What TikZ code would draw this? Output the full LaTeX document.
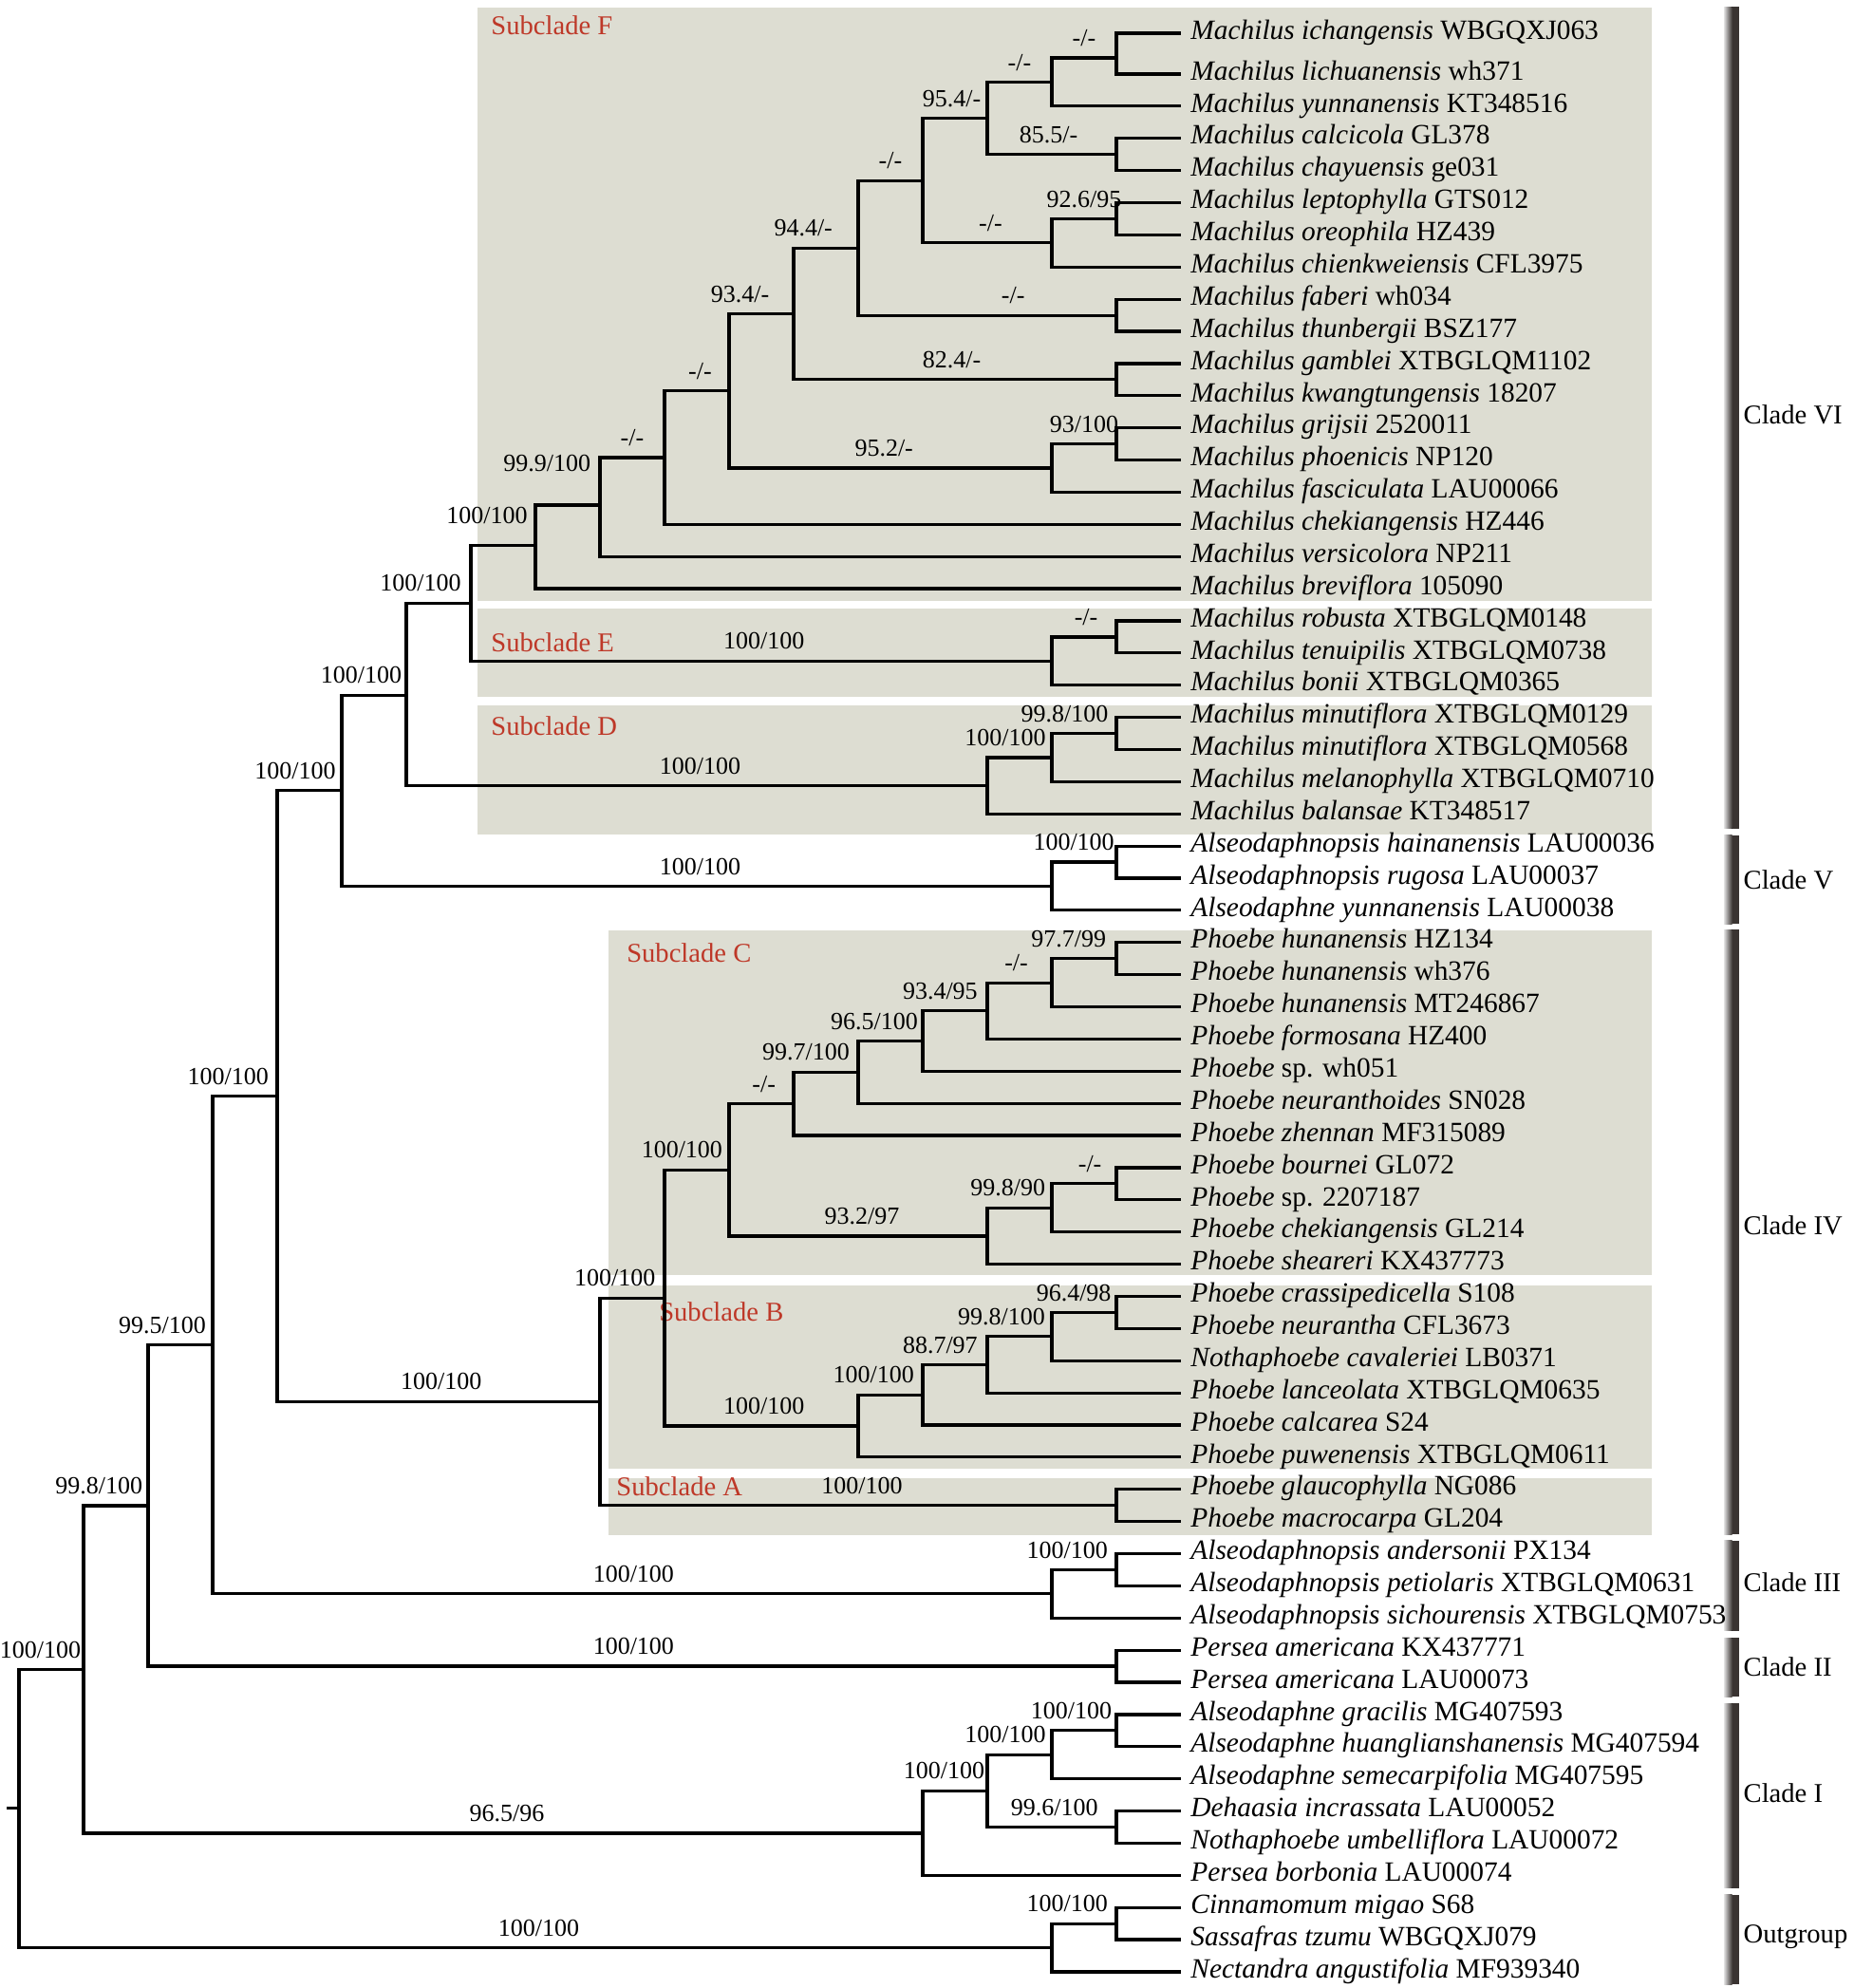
\documentclass[tikz,border=0pt]{standalone}
\usepackage{fontspec}
\setmainfont{Liberation Serif}
\definecolor{boxgray}{RGB}{221,221,210}
\definecolor{subred}{RGB}{190,56,40}
\definecolor{bardark}{RGB}{58,52,50}
\definecolor{barlight}{RGB}{228,228,228}
\newcommand{\taxname}[2]{\textit{#1} #2}

\begin{document}
\begin{tikzpicture}[x=34pt,y=-16.94pt,
  br/.style={line width=1.6pt},
  taxon/.style={anchor=west,inner xsep=5pt,inner ysep=0pt,text height=0.68em,text depth=0.06em,font=\fontsize{14.7}{16}\selectfont},
  bs/.style={anchor=base,yshift=6.2pt,inner sep=0pt,font=\fontsize{13}{14}\selectfont},
  sub/.style={anchor=west,inner sep=0pt,text=subred,font=\fontsize{14.3}{16}\selectfont},
  cl/.style={anchor=west,inner sep=0pt,font=\fontsize{14.3}{16}\selectfont},
  box/.style={fill=boxgray}]
\useasboundingbox (-0.2941,-0.3022) rectangle (28.412,61.504);

% subclade boxes
\fill[box] (7.10,-0.07) rectangle (25.29,18.37);
\fill[box] (7.10,18.63) rectangle (25.29,21.36);
\fill[box] (7.10,21.64) rectangle (25.29,25.64);
\fill[box] (9.13,28.62) rectangle (25.29,39.34);
\fill[box] (9.13,39.66) rectangle (25.29,45.36);
\fill[box] (9.13,45.65) rectangle (25.29,47.42);
\node[sub] (lab-F) at (7.31,0.49) {Subclade F};
\node[sub] (lab-E) at (7.31,19.68) {Subclade E};
\node[sub] (lab-D) at (7.31,22.28) {Subclade D};
\node[sub] (lab-C) at (9.41,29.33) {Subclade C};
\node[sub] (lab-B) at (9.91,40.49) {Subclade B};
\node[sub] (lab-A) at (9.25,45.92) {Subclade A};

% clade bars
\fill[left color=barlight,right color=bardark] (26.41,-0.095) rectangle (26.54,25.45);
\fill[bardark] (26.54,-0.095) rectangle (26.65,25.45);
\fill[left color=barlight,right color=bardark] (26.41,25.66) rectangle (26.54,28.42);
\fill[bardark] (26.54,25.66) rectangle (26.65,28.42);
\fill[left color=barlight,right color=bardark] (26.41,28.6) rectangle (26.54,47.4);
\fill[bardark] (26.54,28.6) rectangle (26.65,47.4);
\fill[left color=barlight,right color=bardark] (26.41,47.6) rectangle (26.54,50.4);
\fill[bardark] (26.54,47.6) rectangle (26.65,50.4);
\fill[left color=barlight,right color=bardark] (26.41,50.62) rectangle (26.54,52.45);
\fill[bardark] (26.54,50.62) rectangle (26.65,52.45);
\fill[left color=barlight,right color=bardark] (26.41,52.65) rectangle (26.54,58.4);
\fill[bardark] (26.54,52.65) rectangle (26.65,58.4);
\fill[left color=barlight,right color=bardark] (26.41,58.6) rectangle (26.54,61.39);
\fill[bardark] (26.54,58.6) rectangle (26.65,61.39);
\node[cl] (cl-VI) at (26.71,12.6) {Clade VI};
\node[cl] (cl-V) at (26.71,27.04) {Clade V};
\node[cl] (cl-IV) at (26.71,37.8) {Clade IV};
\node[cl] (cl-III) at (26.71,48.9) {Clade III};
\node[cl] (cl-II) at (26.71,51.53) {Clade II};
\node[cl] (cl-I) at (26.71,55.45) {Clade I};
\node[cl] (cl-O) at (26.71,59.9) {Outgroup};

% taxa
\node[taxon] (t1) at (18,0.73) {\taxname{Machilus ichangensis}{WBGQXJ063}};
\node[taxon] (t2) at (18,2) {\taxname{Machilus lichuanensis}{wh371}};
\node[taxon] (t3) at (18,3) {\taxname{Machilus yunnanensis}{KT348516}};
\node[taxon] (t4) at (18,4) {\taxname{Machilus calcicola}{GL378}};
\node[taxon] (t5) at (18,5) {\taxname{Machilus chayuensis}{ge031}};
\node[taxon] (t6) at (18,6) {\taxname{Machilus leptophylla}{GTS012}};
\node[taxon] (t7) at (18,7) {\taxname{Machilus oreophila}{HZ439}};
\node[taxon] (t8) at (18,8) {\taxname{Machilus chienkweiensis}{CFL3975}};
\node[taxon] (t9) at (18,9) {\taxname{Machilus faberi}{wh034}};
\node[taxon] (t10) at (18,10) {\taxname{Machilus thunbergii}{BSZ177}};
\node[taxon] (t11) at (18,11) {\taxname{Machilus gamblei}{XTBGLQM1102}};
\node[taxon] (t12) at (18,12) {\taxname{Machilus kwangtungensis}{18207}};
\node[taxon] (t13) at (18,13) {\taxname{Machilus grijsii}{2520011}};
\node[taxon] (t14) at (18,14) {\taxname{Machilus phoenicis}{NP120}};
\node[taxon] (t15) at (18,15) {\taxname{Machilus fasciculata}{LAU00066}};
\node[taxon] (t16) at (18,16) {\taxname{Machilus chekiangensis}{HZ446}};
\node[taxon] (t17) at (18,17) {\taxname{Machilus versicolora}{NP211}};
\node[taxon] (t18) at (18,18) {\taxname{Machilus breviflora}{105090}};
\node[taxon] (t19) at (18,19) {\taxname{Machilus robusta}{XTBGLQM0148}};
\node[taxon] (t20) at (18,20) {\taxname{Machilus tenuipilis}{XTBGLQM0738}};
\node[taxon] (t21) at (18,21) {\taxname{Machilus bonii}{XTBGLQM0365}};
\node[taxon] (t22) at (18,22) {\taxname{Machilus minutiflora}{XTBGLQM0129}};
\node[taxon] (t23) at (18,23) {\taxname{Machilus minutiflora}{XTBGLQM0568}};
\node[taxon] (t24) at (18,24) {\taxname{Machilus melanophylla}{XTBGLQM0710}};
\node[taxon] (t25) at (18,25) {\taxname{Machilus balansae}{KT348517}};
\node[taxon] (t26) at (18,26) {\taxname{Alseodaphnopsis hainanensis}{LAU00036}};
\node[taxon] (t27) at (18,27) {\taxname{Alseodaphnopsis rugosa}{LAU00037}};
\node[taxon] (t28) at (18,28) {\taxname{Alseodaphne yunnanensis}{LAU00038}};
\node[taxon] (t29) at (18,29) {\taxname{Phoebe hunanensis}{HZ134}};
\node[taxon] (t30) at (18,30) {\taxname{Phoebe hunanensis}{wh376}};
\node[taxon] (t31) at (18,31) {\taxname{Phoebe hunanensis}{MT246867}};
\node[taxon] (t32) at (18,32) {\taxname{Phoebe formosana}{HZ400}};
\node[taxon] (t33) at (18,33) {\taxname{Phoebe}{sp. wh051}};
\node[taxon] (t34) at (18,34) {\taxname{Phoebe neuranthoides}{SN028}};
\node[taxon] (t35) at (18,35) {\taxname{Phoebe zhennan}{MF315089}};
\node[taxon] (t36) at (18,36) {\taxname{Phoebe bournei}{GL072}};
\node[taxon] (t37) at (18,37) {\taxname{Phoebe}{sp. 2207187}};
\node[taxon] (t38) at (18,38) {\taxname{Phoebe chekiangensis}{GL214}};
\node[taxon] (t39) at (18,39) {\taxname{Phoebe sheareri}{KX437773}};
\node[taxon] (t40) at (18,40) {\taxname{Phoebe crassipedicella}{S108}};
\node[taxon] (t41) at (18,41) {\taxname{Phoebe neurantha}{CFL3673}};
\node[taxon] (t42) at (18,42) {\taxname{Nothaphoebe cavaleriei}{LB0371}};
\node[taxon] (t43) at (18,43) {\taxname{Phoebe lanceolata}{XTBGLQM0635}};
\node[taxon] (t44) at (18,44) {\taxname{Phoebe calcarea}{S24}};
\node[taxon] (t45) at (18,45) {\taxname{Phoebe puwenensis}{XTBGLQM0611}};
\node[taxon] (t46) at (18,46) {\taxname{Phoebe glaucophylla}{NG086}};
\node[taxon] (t47) at (18,47) {\taxname{Phoebe macrocarpa}{GL204}};
\node[taxon] (t48) at (18,48) {\taxname{Alseodaphnopsis andersonii}{PX134}};
\node[taxon] (t49) at (18,49) {\taxname{Alseodaphnopsis petiolaris}{XTBGLQM0631}};
\node[taxon] (t50) at (18,50) {\taxname{Alseodaphnopsis sichourensis}{XTBGLQM0753}};
\node[taxon] (t51) at (18,51) {\taxname{Persea americana}{KX437771}};
\node[taxon] (t52) at (18,52) {\taxname{Persea americana}{LAU00073}};
\node[taxon] (t53) at (18,53) {\taxname{Alseodaphne gracilis}{MG407593}};
\node[taxon] (t54) at (18,54) {\taxname{Alseodaphne huanglianshanensis}{MG407594}};
\node[taxon] (t55) at (18,55) {\taxname{Alseodaphne semecarpifolia}{MG407595}};
\node[taxon] (t56) at (18,56) {\taxname{Dehaasia incrassata}{LAU00052}};
\node[taxon] (t57) at (18,57) {\taxname{Nothaphoebe umbelliflora}{LAU00072}};
\node[taxon] (t58) at (18,58) {\taxname{Persea borbonia}{LAU00074}};
\node[taxon] (t59) at (18,59) {\taxname{Cinnamomum migao}{S68}};
\node[taxon] (t60) at (18,60) {\taxname{Sassafras tzumu}{WBGQXJ079}};
\node[taxon] (t61) at (18,61) {\taxname{Nectandra angustifolia}{MF939340}};

% internal nodes (column, height)
\coordinate (root) at (0,55.92);
\coordinate (stem) at (-0.19,55.92);
\coordinate (k1) at (1,51.6);
\coordinate (k2) at (2,46.51);
\coordinate (k3) at (3,41.51);
\coordinate (k4) at (4,33.78);
\coordinate (k5) at (5,24.28);
\coordinate (k6) at (6,21.31);
\coordinate (k7) at (7,18.45);
\coordinate (sf17) at (8,16.66);
\coordinate (sf16) at (9,15.4);
\coordinate (sf15) at (10,13.926);
\coordinate (sf14) at (11,11.852);
\coordinate (sf11) at (12,9.453);
\coordinate (sf9) at (13,7.406);
\coordinate (sf7) at (14,5.3125);
\coordinate (sf4) at (15,3.375);
\coordinate (sf2) at (16,2.25);
\coordinate (sf1) at (17,1.5);
\coordinate (sf3) at (17,4.5);
\coordinate (sf6) at (16,7.25);
\coordinate (sf5) at (17,6.5);
\coordinate (sf8) at (17,9.5);
\coordinate (sf10) at (17,11.5);
\coordinate (sf13) at (16,14.25);
\coordinate (sf12) at (17,13.5);
\coordinate (se2) at (16,20.25);
\coordinate (se1) at (17,19.5);
\coordinate (sd3) at (15,24.125);
\coordinate (sd2) at (16,23.25);
\coordinate (sd1) at (17,22.5);
\coordinate (v2) at (16,27.25);
\coordinate (v1) at (17,26.5);
\coordinate (k9) at (9,43.27);
\coordinate (sa1) at (17,46.5);
\coordinate (k10) at (10,40.05);
\coordinate (sc10) at (11,36.07);
\coordinate (sc6) at (12,34.016);
\coordinate (sc5) at (13,33.03);
\coordinate (sc4) at (14,32.06);
\coordinate (sc3) at (15,31.125);
\coordinate (sc2) at (16,30.25);
\coordinate (sc1) at (17,29.5);
\coordinate (sc9) at (15,38.125);
\coordinate (sc8) at (16,37.25);
\coordinate (sc7) at (17,36.5);
\coordinate (sb5) at (13,44.03);
\coordinate (sb4) at (14,43.06);
\coordinate (sb3) at (15,42.125);
\coordinate (sb2) at (16,41.25);
\coordinate (sb1) at (17,40.5);
\coordinate (iii2) at (16,49.25);
\coordinate (iii1) at (17,48.5);
\coordinate (ii1) at (17,51.5);
\coordinate (i5) at (14,56.69);
\coordinate (i4) at (15,55.375);
\coordinate (i2) at (16,54.25);
\coordinate (i1) at (17,53.5);
\coordinate (i3) at (17,56.5);
\coordinate (o2) at (16,60.25);
\coordinate (o1) at (17,59.5);

% branches
\draw[br] (root) -- (stem);
\draw[br] (root) |- (k1) (root) |- (o2);
\draw[br] (k1) |- (k2) (k1) |- (i5);
\draw[br] (k2) |- (k3) (k2) |- (ii1);
\draw[br] (k3) |- (k4) (k3) |- (iii2);
\draw[br] (k4) |- (k5) (k4) |- (k9);
\draw[br] (k5) |- (k6) (k5) |- (v2);
\draw[br] (k6) |- (k7) (k6) |- (sd3);
\draw[br] (k7) |- (sf17) (k7) |- (se2);
\draw[br] (sf17) |- (sf16) (sf17) |- (t18.west);
\draw[br] (sf16) |- (sf15) (sf16) |- (t17.west);
\draw[br] (sf15) |- (sf14) (sf15) |- (t16.west);
\draw[br] (sf14) |- (sf11) (sf14) |- (sf13);
\draw[br] (sf11) |- (sf9) (sf11) |- (sf10);
\draw[br] (sf9) |- (sf7) (sf9) |- (sf8);
\draw[br] (sf7) |- (sf4) (sf7) |- (sf6);
\draw[br] (sf4) |- (sf2) (sf4) |- (sf3);
\draw[br] (sf2) |- (sf1) (sf2) |- (t3.west);
\draw[br] (sf1) |- (t1.west) (sf1) |- (t2.west);
\draw[br] (sf3) |- (t4.west) (sf3) |- (t5.west);
\draw[br] (sf6) |- (sf5) (sf6) |- (t8.west);
\draw[br] (sf5) |- (t6.west) (sf5) |- (t7.west);
\draw[br] (sf8) |- (t9.west) (sf8) |- (t10.west);
\draw[br] (sf10) |- (t11.west) (sf10) |- (t12.west);
\draw[br] (sf13) |- (sf12) (sf13) |- (t15.west);
\draw[br] (sf12) |- (t13.west) (sf12) |- (t14.west);
\draw[br] (se2) |- (se1) (se2) |- (t21.west);
\draw[br] (se1) |- (t19.west) (se1) |- (t20.west);
\draw[br] (sd3) |- (sd2) (sd3) |- (t25.west);
\draw[br] (sd2) |- (sd1) (sd2) |- (t24.west);
\draw[br] (sd1) |- (t22.west) (sd1) |- (t23.west);
\draw[br] (v2) |- (v1) (v2) |- (t28.west);
\draw[br] (v1) |- (t26.west) (v1) |- (t27.west);
\draw[br] (k9) |- (k10) (k9) |- (sa1);
\draw[br] (sa1) |- (t46.west) (sa1) |- (t47.west);
\draw[br] (k10) |- (sc10) (k10) |- (sb5);
\draw[br] (sc10) |- (sc6) (sc10) |- (sc9);
\draw[br] (sc6) |- (sc5) (sc6) |- (t35.west);
\draw[br] (sc5) |- (sc4) (sc5) |- (t34.west);
\draw[br] (sc4) |- (sc3) (sc4) |- (t33.west);
\draw[br] (sc3) |- (sc2) (sc3) |- (t32.west);
\draw[br] (sc2) |- (sc1) (sc2) |- (t31.west);
\draw[br] (sc1) |- (t29.west) (sc1) |- (t30.west);
\draw[br] (sc9) |- (sc8) (sc9) |- (t39.west);
\draw[br] (sc8) |- (sc7) (sc8) |- (t38.west);
\draw[br] (sc7) |- (t36.west) (sc7) |- (t37.west);
\draw[br] (sb5) |- (sb4) (sb5) |- (t45.west);
\draw[br] (sb4) |- (sb3) (sb4) |- (t44.west);
\draw[br] (sb3) |- (sb2) (sb3) |- (t43.west);
\draw[br] (sb2) |- (sb1) (sb2) |- (t42.west);
\draw[br] (sb1) |- (t40.west) (sb1) |- (t41.west);
\draw[br] (iii2) |- (iii1) (iii2) |- (t50.west);
\draw[br] (iii1) |- (t48.west) (iii1) |- (t49.west);
\draw[br] (ii1) |- (t51.west) (ii1) |- (t52.west);
\draw[br] (i5) |- (i4) (i5) |- (t58.west);
\draw[br] (i4) |- (i2) (i4) |- (i3);
\draw[br] (i2) |- (i1) (i2) |- (t55.west);
\draw[br] (i1) |- (t53.west) (i1) |- (t54.west);
\draw[br] (i3) |- (t56.west) (i3) |- (t57.west);
\draw[br] (o2) |- (o1) (o2) |- (t61.west);
\draw[br] (o1) |- (t59.west) (o1) |- (t60.west);

% support values
\node[bs] (l-sf1) at (16.5,1.5) {-/-};
\node[bs] (l-sf2) at (15.5,2.25) {-/-};
\node[bs] (l-sf4) at (14.45,3.375) {95.4/-};
\node[bs] (l-sf3) at (15.95,4.5) {85.5/-};
\node[bs] (l-sf7) at (13.5,5.3125) {-/-};
\node[bs] (l-sf5) at (16.5,6.5) {92.6/95};
\node[bs] (l-sf6) at (15.05,7.25) {-/-};
\node[bs] (l-sf9) at (12.15,7.406) {94.4/-};
\node[bs] (l-sf8) at (15.4,9.5) {-/-};
\node[bs] (l-sf11) at (11.17,9.453) {93.4/-};
\node[bs] (l-sf10) at (14.45,11.5) {82.4/-};
\node[bs] (l-sf14) at (10.55,11.852) {-/-};
\node[bs] (l-sf12) at (16.5,13.5) {93/100};
\node[bs] (l-sf15) at (9.5,13.926) {-/-};
\node[bs] (l-sf13) at (13.4,14.25) {95.2/-};
\node[bs] (l-sf16) at (8.18,14.73) {99.9/100};
\node[bs] (l-sf17) at (7.25,16.35) {100/100};
\node[bs] (l-k7) at (6.22,18.45) {100/100};
\node[bs] (l-se1) at (16.53,19.5) {-/-};
\node[bs] (l-se2) at (11.54,20.25) {100/100};
\node[bs] (l-k6) at (5.3,21.31) {100/100};
\node[bs] (l-sd1) at (16.2,22.5) {99.8/100};
\node[bs] (l-sd2) at (15.28,23.25) {100/100};
\node[bs] (l-sd3) at (10.55,24.125) {100/100};
\node[bs] (l-k5) at (4.28,24.28) {100/100};
\node[bs] (l-v1) at (16.34,26.5) {100/100};
\node[bs] (l-v2) at (10.55,27.25) {100/100};
\node[bs] (l-sc1) at (16.26,29.5) {97.7/99};
\node[bs] (l-sc2) at (15.45,30.25) {-/-};
\node[bs] (l-sc3) at (14.27,31.125) {93.4/95};
\node[bs] (l-sc4) at (13.25,32.06) {96.5/100};
\node[bs] (l-sc5) at (12.19,33.03) {99.7/100};
\node[bs] (l-sc6) at (11.54,34.016) {-/-};
\node[bs] (l-sc10) at (10.27,36.07) {100/100};
\node[bs] (l-sc7) at (16.59,36.5) {-/-};
\node[bs] (l-sc8) at (15.32,37.25) {99.8/90};
\node[bs] (l-sc9) at (13.06,38.125) {93.2/97};
\node[bs] (l-k10) at (9.23,40.05) {100/100};
\node[bs] (l-sb1) at (16.34,40.5) {96.4/98};
\node[bs] (l-sb2) at (15.22,41.25) {99.8/100};
\node[bs] (l-sb3) at (14.27,42.125) {88.7/97};
\node[bs] (l-sb4) at (13.24,43.06) {100/100};
\node[bs] (l-sb5) at (11.54,44.03) {100/100};
\node[bs] (l-k9) at (6.54,43.27) {100/100};
\node[bs] (l-sa1) at (13.06,46.5) {100/100};
\node[bs] (l-iii1) at (16.24,48.5) {100/100};
\node[bs] (l-iii2) at (9.52,49.25) {100/100};
\node[bs] (l-k3) at (2.22,41.51) {99.5/100};
\node[bs] (l-k4) at (3.24,33.78) {100/100};
\node[bs] (l-ii1) at (9.52,51.5) {100/100};
\node[bs] (l-k2) at (1.24,46.51) {99.8/100};
\node[bs] (l-i1) at (16.3,53.5) {100/100};
\node[bs] (l-i2) at (15.28,54.25) {100/100};
\node[bs] (l-i3) at (16.04,56.5) {99.6/100};
\node[bs] (l-i4) at (14.33,55.375) {100/100};
\node[bs] (l-i5) at (7.56,56.69) {96.5/96};
\node[bs] (l-k1) at (0.33,51.6) {100/100};
\node[bs] (l-o1) at (16.24,59.5) {100/100};
\node[bs] (l-o2) at (8.05,60.25) {100/100};
\end{tikzpicture}
\end{document}
